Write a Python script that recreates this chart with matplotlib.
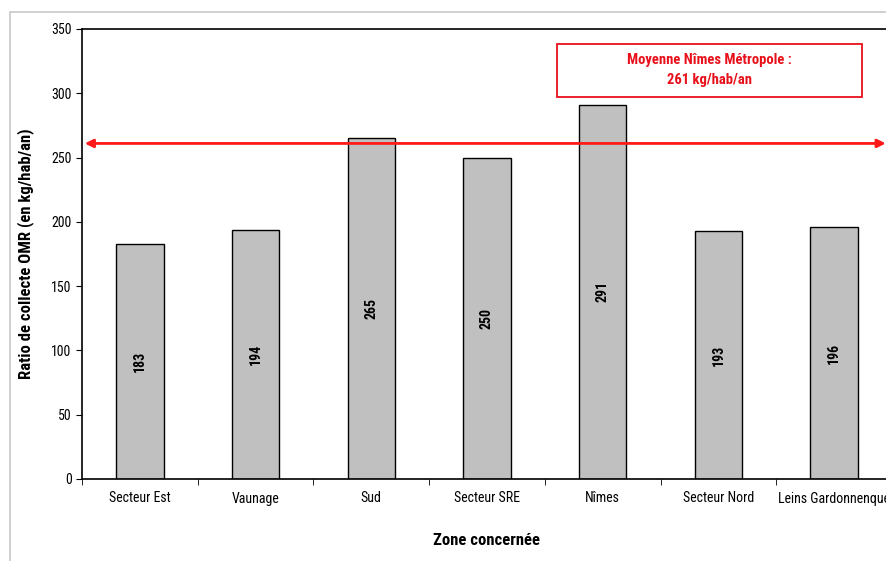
import matplotlib.pyplot as plt
from matplotlib.patches import Rectangle

zones = ["Secteur Est", "Vaunage", "Sud", "Secteur SRE", "Nîmes", "Secteur Nord", "Leins Gardonnenque"]
ratios = [183, 194, 265, 250, 291, 193, 196]
moyenne = 261

plt.rcParams["font.family"] = ["Liberation Sans Narrow", "Roboto Condensed", "Archivo Narrow", "DejaVu Sans"]

fig = plt.figure(figsize=(8.87, 5.61), dpi=100)
# light grey frame round the whole chart
fig.patches.append(Rectangle((10 / 887, -0.1), 1.0, 1 - 12 / 561 + 0.1, transform=fig.transFigure,
                             fill=False, edgecolor="#c8c8c8", linewidth=1.2))

ax = fig.add_axes([82 / 887, 1 - 479 / 561, 810 / 887, 450 / 561])
x = list(range(len(zones)))
ax.bar(x, ratios, width=0.41, color="#c0c0c0", edgecolor="black", linewidth=1, zorder=2)

for xi, v in zip(x, ratios):
    ax.text(xi, v / 2, str(v), rotation=90, ha="center", va="center", fontsize=10, fontweight="bold", zorder=3)

ax.set_xlim(-0.5, len(zones) - 0.5)
ax.set_ylim(0, 350)
ax.set_yticks(range(0, 351, 50))
ax.set_xticks(x)
ax.set_xticklabels(zones, fontsize=10)
ax.set_xticks([i + 0.5 for i in range(-1, len(zones))], minor=True)
ax.tick_params(axis="x", which="major", length=0, pad=9)
ax.tick_params(axis="x", which="minor", length=4, direction="out")
ax.tick_params(axis="y", labelsize=10, length=4, direction="out")
for s in ax.spines.values():
    s.set_linewidth(1.2)

ax.set_ylabel("Ratio de collecte OMR (en kg/hab/an)", fontsize=12, fontweight="bold", labelpad=12)
ax.set_xlabel("Zone concernée", fontsize=12, fontweight="bold", labelpad=20)

# average line across the zones
ax.annotate("", xy=(-0.5, moyenne), xytext=(6.47, moyenne),
            arrowprops=dict(arrowstyle="<|-|>", color="#ff1a1a", lw=2, mutation_scale=12),
            zorder=4, annotation_clip=False)

# framed caption for the average
ax.add_patch(Rectangle((3.605, 297), 2.635, 41, facecolor="white", edgecolor="#e8101a",
                       linewidth=1.3, zorder=5))
ax.text(4.92, 318, "Moyenne Nîmes Métropole :\n%d kg/hab/an" % moyenne, ha="center", va="center",
        color="#e8101a", fontsize=10.5, fontweight="bold", linespacing=1.5, zorder=6)

fig.savefig("out.png", dpi=100)
